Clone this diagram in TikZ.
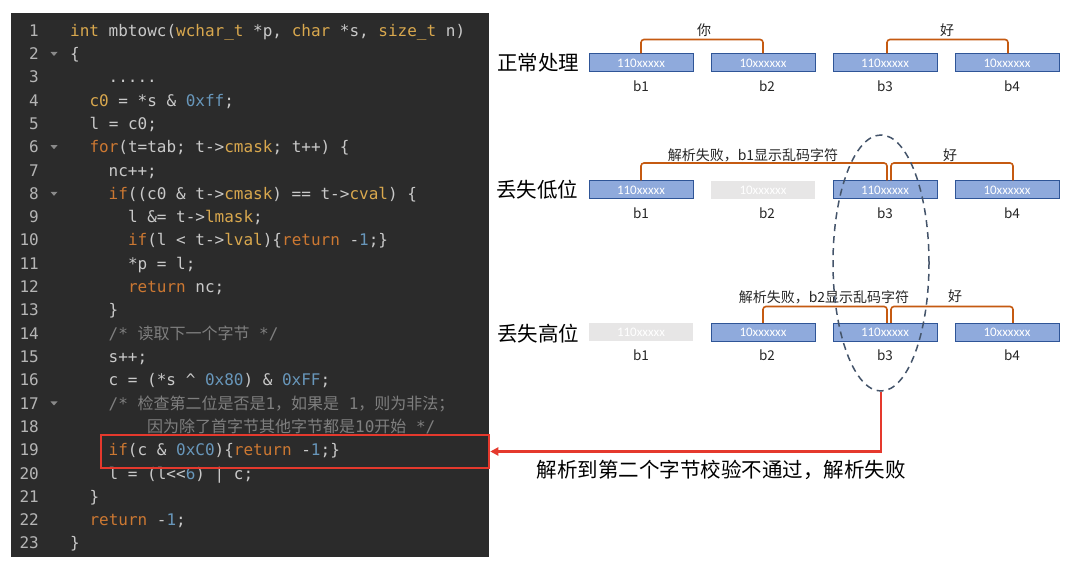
\documentclass[tikz,border=0pt]{standalone}
\usepackage{fontspec}
\setmonofont{DejaVu Sans Mono}
\newfontfamily\cjk{Noto Sans CJK SC}
\newfontfamily\cali{Carlito}
\usetikzlibrary{arrows.meta,shapes.geometric}
\definecolor{codebg}{HTML}{2B2B2B}
\definecolor{codefg}{HTML}{C9C9C9}
\definecolor{lnum}{HTML}{B5B5B5}
\definecolor{foldc}{HTML}{8A8A8A}
\definecolor{kwgold}{HTML}{D9A84E}
\definecolor{kworange}{HTML}{CC7832}
\definecolor{numblue}{HTML}{6897BB}
\definecolor{cmt}{HTML}{7F7F7F}
\definecolor{hlred}{HTML}{E5392D}
\definecolor{boxfill}{HTML}{8FAADC}
\definecolor{boxline}{HTML}{2F5597}
\definecolor{lostfill}{HTML}{E7E6E6}
\definecolor{brk}{HTML}{C55A11}
\definecolor{ovalc}{HTML}{44546A}
\newcommand\cgold[1]{\textcolor{kwgold}{#1}}
\newcommand\corange[1]{\textcolor{kworange}{#1}}
\newcommand\cnum[1]{\textcolor{numblue}{#1}}
\begin{document}
\begin{tikzpicture}[x=1pt,y=-1pt,
  codeline/.style={anchor=base west,inner sep=0pt,text=codefg,font=\fontsize{16}{16}\selectfont\ttfamily},
  cmtline/.style={codeline,text=cmt},
  lineno/.style={anchor=base east,inner sep=0pt,text=lnum,font=\fontsize{16}{16}\selectfont\ttfamily},
  bytebox/.style={draw=boxline,fill=boxfill,line width=1pt,minimum width=104pt,minimum height=18pt,inner sep=0pt,text=white,font=\cali\fontsize{13}{13}\selectfont},
  lostbox/.style={bytebox,draw=none,fill=lostfill},
  blabel/.style={inner sep=0pt,font=\cjk\fontsize{13.5}{14}\selectfont,text=black!85},
  rowlabel/.style={inner sep=0pt,font=\cjk\fontsize{20.5}{21}\selectfont,text=black},
  brlabel/.style={inner sep=0pt,font=\cjk\fontsize{14}{14}\selectfont,text=black!85},
  bracket/.style={draw=brk,line width=1.6pt,rounded corners=3pt},
  fold/.style={fill=foldc}
]
\useasboundingbox (0,0) rectangle (1080,569);
\fill[white] (0,0) rectangle (1080,569);
% code panel
\fill[codebg] (11,13) rectangle (489,557);
% line numbers
\foreach \i in {1,...,23}{
  \node[lineno] (n\i) at (39,{36.3+(\i-1)*23.3}) {\i};
}
% fold markers
\foreach \i in {2,6,8,17}{
  \fill[fold] (50.5,{30.7+(\i-1)*23.3-2}) -- (57.5,{30.7+(\i-1)*23.3-2}) -- (54,{30.7+(\i-1)*23.3+2}) -- cycle;
}
% code lines (char width 9.63)
\node[codeline] (c1) at (70,36.3) {\cgold{int} mbtowc(\cgold{wchar\_t} *p, \cgold{char} *s, \cgold{size\_t} n)};
\node[codeline] (c2) at (70,59.6) {\{};
\node[codeline] (c3) at (108.5,82.9) {.....};
\node[codeline] (c4) at (89.3,106.2) {\cgold{c0} = *s \& \cnum{0xff};};
\node[codeline] (c5) at (89.3,129.5) {l = c0;};
\node[codeline] (c6) at (89.3,152.8) {\corange{for}(t=tab; t->\cgold{cmask}; t++) \{};
\node[codeline] (c7) at (108.5,176.1) {nc++;};
\node[codeline] (c8) at (108.5,199.4) {\corange{if}((c0 \& t->\cgold{cmask}) == t->\cgold{cval}) \{};
\node[codeline] (c9) at (127.8,222.7) {l \&= t->\cgold{lmask};};
\node[codeline] (c10) at (127.8,246.0) {\corange{if}(l <{} t->\cgold{lval})\{\corange{return} -\cnum{1};\}};
\node[codeline] (c11) at (127.8,269.3) {*p = l;};
\node[codeline] (c12) at (127.8,292.6) {\corange{return} nc;};
\node[codeline] (c13) at (108.5,315.9) {\}};
\node[cmtline] (c14) at (108.5,339.2) {/* {\cjk 读取下一个字节} */};
\node[codeline] (c15) at (108.5,362.5) {s++;};
\node[codeline] (c16) at (108.5,385.8) {c = (*s \textasciicircum{} \cnum{0x80}) \& \cnum{0xFF};};
\node[cmtline] (c17) at (108.5,409.1) {/* {\cjk 检查第二位是否是}1{\cjk ，如果是} 1{\cjk ，则为非法；}};
\node[cmtline] (c18) at (147.0,432.4) {{\cjk 因为除了首字节其他字节都是}10{\cjk 开始} */};
\node[codeline] (c19) at (108.5,455.7) {\corange{if}(c \& \cnum{0xC0})\{\corange{return} -\cnum{1};\}};
\node[codeline] (c20) at (108.5,479.0) {l = (l<{}<\cnum{6}) | c;};
\node[codeline] (c21) at (89.3,502.3) {\}};
\node[codeline] (c22) at (89.3,525.6) {\corange{return} -\cnum{1};};
\node[codeline] (c23) at (70,548.9) {\}};
% highlight box
\node[draw=hlred,line width=2.5pt,minimum width=388pt,minimum height=33pt,inner sep=0pt] (hl) at (295,451.5) {};

% row labels
\node[rowlabel] (row1) at (538,63) {正常处理};
\node[rowlabel] (row2) at (537,190) {丢失低位};
\node[rowlabel] (row3) at (538,334) {丢失高位};

% row 1 boxes
\node[bytebox] (r1b1) at (641,63) {110xxxxx};
\node[bytebox] (r1b2) at (763,63) {10xxxxxx};
\node[bytebox] (r1b3) at (885,63) {110xxxxx};
\node[bytebox] (r1b4) at (1007,63) {10xxxxxx};
% row 2 boxes
\node[bytebox] (r2b1) at (641,190) {110xxxxx};
\node[lostbox] (r2b2) at (763,190) {10xxxxxx};
\node[bytebox] (r2b3) at (885,190) {110xxxxx};
\node[bytebox] (r2b4) at (1007,190) {10xxxxxx};
% row 3 boxes
\node[lostbox] (r3b1) at (641,332.5) {110xxxxx};
\node[bytebox] (r3b2) at (763,332.5) {10xxxxxx};
\node[bytebox] (r3b3) at (885,332.5) {110xxxxx};
\node[bytebox] (r3b4) at (1007,332.5) {10xxxxxx};

% b labels
\foreach \r/\y in {1/86,2/213,3/355.5}{
  \node[blabel] (l\r b1) at (641,\y) {b1};
  \node[blabel] (l\r b2) at (767,\y) {b2};
  \node[blabel] (l\r b3) at (885,\y) {b3};
  \node[blabel] (l\r b4) at (1012,\y) {b4};
}

% brackets row 1
\draw[bracket] (r1b1.north) -- ++(0,-14) -| (r1b2.north);
\draw[bracket] ([xshift=2pt]r1b3.north) -- ++(0,-14) -| ([xshift=1pt]r1b4.north);
\node[brlabel] (t1a) at (704,30) {你};
\node[brlabel] (t1b) at (947,30) {好};
% brackets row 2
\draw[bracket] (r2b1.north) -- ++(0,-17.5) -| ([xshift=2pt]r2b3.north);
\draw[bracket] ([xshift=6pt]r2b3.north) -- ++(0,-17.5) -| ([xshift=6pt]r2b4.north);
\node[brlabel] (t2a) at (753,155) {解析失败，b1显示乱码字符};
\node[brlabel] (t2b) at (950,155) {好};
% brackets row 3
\draw[bracket] (r3b2.north) -- ++(0,-16.5) -| ([xshift=2pt]r3b3.north);
\draw[bracket] ([xshift=6pt]r3b3.north) -- ++(0,-16.5) -| ([xshift=6pt]r3b4.north);
\node[brlabel] (t3a) at (824,297) {解析失败，b2显示乱码字符};
\node[brlabel] (t3b) at (955,296) {好};

% dashed oval
\node[ellipse,draw=ovalc,dashed,dash pattern=on 7pt off 5pt,line width=1.5pt,minimum width=96pt,minimum height=256pt,inner sep=0pt] (oval) at (881,263) {};

% arrow to highlighted line
\draw[hlred,line width=2.5pt,-{Triangle[length=8pt,width=8pt]}] (oval.south) |- (hl.east);
\node[inner sep=0pt,font=\cjk\fontsize{20.5}{21}\selectfont] (note) at (721,470) {解析到第二个字节校验不通过，解析失败};
\end{tikzpicture}
\end{document}
